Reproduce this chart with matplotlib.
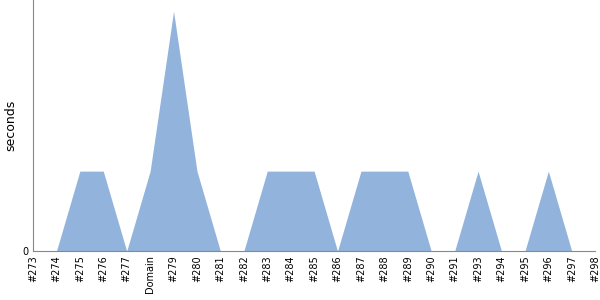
import numpy as np
import matplotlib
matplotlib.use("Agg")
import matplotlib.pyplot as plt

# build labels and durations (seconds)
labels = ["#273", "#274", "#275", "#276", "#277", "Domain", "#279", "#280", "#281",
          "#282", "#283", "#284", "#285", "#286", "#287", "#288", "#289", "#290",
          "#291", "#293", "#294", "#295", "#296", "#297", "#298"]
seconds = [0, 0, 1, 1, 0, 1, 3, 1, 0, 0, 1, 1, 1, 0, 1, 1, 1, 0, 0, 1, 0, 0, 1, 0, 0]

x = np.arange(len(labels))

fig = plt.figure(figsize=(6, 3), dpi=100)
ax = fig.add_axes([0.055, 0.163, 0.937, 0.837])

ax.fill_between(x, 0, seconds, color="#92b4dc", linewidth=0)

ax.set_xlim(0, len(labels) - 1)
ax.set_ylim(0, 3.14)
ax.set_xticks(x)
ax.set_xticklabels(labels, rotation=90, fontsize=7)
ax.set_yticks([0])
ax.set_yticklabels(["0"], fontsize=7)
ax.tick_params(length=0, pad=3)
ax.set_ylabel("seconds", fontsize=9)

for side in ["top", "right"]:
    ax.spines[side].set_visible(False)
for side in ["left", "bottom"]:
    ax.spines[side].set_color("#888888")

fig.savefig("out.png", dpi=100)
